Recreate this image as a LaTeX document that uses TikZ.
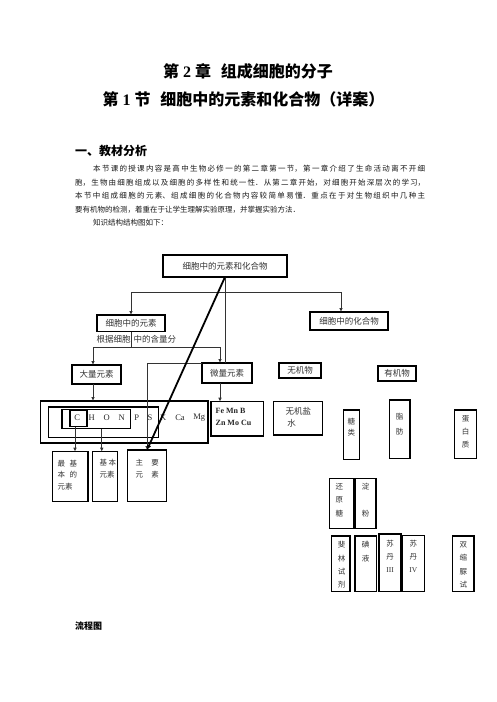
\documentclass[tikz,border=0pt]{standalone}
\usepackage{fontspec}
\usepackage{graphicx}
\setmainfont{Liberation Serif}
\newfontfamily\cjk{Noto Sans CJK SC}
\usetikzlibrary{arrows.meta}
\newcommand\rbox[5]{\node[boxst, minimum width={(#4)-(#2)}, minimum height={(#5)-(#3)}] (#1) at ({((#2)+(#4))/2},{((#3)+(#5))/2}) {};}
\begin{document}
\begin{tikzpicture}[x=1pt,y=-1pt,
 boxst/.style={draw=black, line width=1.2pt, inner sep=0pt, outer sep=0pt},
 txt/.style={inner sep=0pt, font=\cjk\fontsize{8.5}{11}\selectfont, text=black!80, align=center},
 stxt/.style={inner sep=0pt, font=\cjk\fontsize{7.5}{11.8}\selectfont, text=black!80, align=left},
 vtxt/.style={inner sep=0pt, text=black!80, align=center},
 ltr/.style={inner sep=0pt, font=\fontsize{8.5}{10}\selectfont, text=black!85},
 conn/.style={draw=black!80, line width=0.9pt},
 arr/.style={conn, -{Latex[length=4pt,width=3.6pt]}},
 diag/.style={draw=black, line width=1.8pt, -{Latex[length=5pt,width=4.5pt]}},
]
\fill[white] (0,0) rectangle (496,702);
\useasboundingbox (0,0) rectangle (496,702);

% titles
\node[inner sep=0pt, font=\cjk\bfseries\fontsize{16}{16}\selectfont] (t1) at (248,71) {第\hspace{4pt}{\rmfamily\bfseries 2}\hspace{4pt}章\hspace{0.6em}组成细胞的分子};
\node[inner sep=0pt, font=\cjk\bfseries\fontsize{16}{16}\selectfont] (t2) at (243.5,99) {第\hspace{4pt}{\rmfamily\bfseries 1}\hspace{4pt}节\hspace{0.6em}细胞中的元素和化合物（详案）};
\node[anchor=west, inner sep=0pt, font=\cjk\bfseries\fontsize{12}{12}\selectfont] (h1) at (75,150.5) {一、教材分析};

\node[anchor=north west, text width=350pt, align=justify, inner sep=0pt,
  font=\cjk\fontsize{7.5}{13.5}\selectfont, text=black!90] (para) at (75,165.2)
 {\XeTeXlinebreaklocale "zh"\XeTeXlinebreakskip=0pt plus 3pt\relax
 \hspace*{18pt}本节课的授课内容是高中生物必修一的第二章第一节，第一章介绍了生命活动离不开细\linebreak
 胞，生物由细胞组成以及细胞的多样性和统一性．从第二章开始，对细胞开始深层次的学习，\linebreak
 本节中组成细胞的元素、组成细胞的化合物内容较简单易懂．重点在于对生物组织中几种主\linebreak
 要有机物的检测，着重在于让学生理解实验原理，并掌握实验方法．\\
 \hspace*{18pt}知识结构结构图如下：};

% boxes
\rbox{top}{163}{255}{287}{277}
\rbox{elem}{97}{315}{165}{331.5}
\rbox{cmpd}{310}{312}{388}{330}
\rbox{dali}{72}{365}{121}{384}
\rbox{wl}{202}{363}{252}{383}
\rbox{wjw}{279}{363}{321}{378}
\rbox{yjw}{378}{366}{416}{381}
\rbox{outer}{40.5}{401}{208}{443}
\rbox{mid}{48.3}{407}{158.3}{437.5}
\rbox{inner}{62}{409.5}{130.5}{428.5}
\rbox{cbox}{70}{410}{87}{426.5}
\rbox{zjb}{52.3}{451.7}{88}{501.7}
\rbox{jb}{92.7}{451.7}{117.3}{501.7}
\rbox{zy}{127.3}{450}{166.7}{501.7}
\rbox{fe}{211}{401.7}{263.3}{436}
\rbox{wjy}{273.3}{401.7}{322.7}{435}
\rbox{tl}{343.3}{410}{359.3}{459.3}
\rbox{zf}{389.3}{400}{410}{458.3}
\rbox{dbz}{454.3}{410}{476.7}{458.3}
\rbox{hyt}{329.3}{478.3}{353.3}{528.3}
\rbox{df}{355}{478.3}{376}{528.3}
\rbox{fl}{331.7}{536}{350}{591.7}
\rbox{dy}{355}{536}{376.7}{591.7}
\rbox{sd3}{379}{534}{401}{591.7}
\rbox{sd4}{402.3}{535.3}{424.3}{591.7}
\rbox{sxs}{452.3}{536}{474}{591.7}

% box texts
\node[txt] (ttop) at (225,266) {细胞中的元素和化合物};
\node[txt] (telem) at (131,323.3) {细胞中的元素};
\node[txt] (tcmpd) at (349,321) {细胞中的化合物};
\node[txt, anchor=west] (tgen) at (96.5,339.5) {根据细胞\hspace{3pt}中的含量分};
\node[txt] (tdali) at (96.5,374.5) {大量元素};
\node[txt] (twl) at (227,373) {微量元素};
\node[txt] (twjw) at (300,370.5) {无机物};
\node[txt] (tyjw) at (397,373.5) {有机物};
\foreach \l/\x [count=\i] in {C/77.3,H/91.7,O/106.7,N/121.7,P/136.7,S/150,K/163.3,Ca/180,Mg/199.3}
  \node[ltr] (e\i) at (\x,417.7) {\l};
\node[inner sep=0pt, anchor=west, align=left, font=\bfseries\fontsize{8}{12.6}\selectfont, text=black!85] (tfe) at (215.5,417) {Fe Mn B\\Zn Mo Cu};
\node[txt] (twjy1) at (298.3,411.7) {无机盐};
\node[txt] (twjy2) at (291.7,423.3) {水};
\node[stxt, anchor=west] (tzjb) at (57.5,475) {最\hspace{4.5pt}基\\本\hspace{4.5pt}的\\元素};
\node[stxt, anchor=north west] (tjb) at (99.3,459) {基\hspace{1.5pt}本\\元素};
\node[stxt, anchor=north west] (tzy) at (135.3,459) {主\hspace{8.5pt}要\\元\hspace{8.5pt}素};
\node[vtxt, font=\cjk\fontsize{7.5}{11}\selectfont] (ttl) at (351.3,427.2) {糖\\类};
\node[vtxt, font=\cjk\fontsize{7.5}{15}\selectfont] (tzf) at (399.7,424.2) {脂\\肪};
\node[vtxt, font=\cjk\fontsize{7.5}{13.3}\selectfont] (tdbz) at (465.5,431.7) {蛋\\白\\质};
\node[vtxt, font=\cjk\fontsize{7.5}{13.3}\selectfont] (thyt) at (339.3,500) {还\\原\\糖};
\node[vtxt, font=\cjk\fontsize{7.5}{13.3}\selectfont] (tdf) at (365.7,500) {淀\\[13.3pt]粉};
\node[vtxt, font=\cjk\fontsize{7.5}{13.3}\selectfont] (tfl) at (341.7,565) {斐\\林\\试\\剂};
\node[vtxt, font=\cjk\fontsize{7.5}{13.3}\selectfont] (tdy) at (365.7,551.7) {碘\\液};
\node[vtxt, font=\cjk\fontsize{7.5}{13}\selectfont] (tsd3) at (390,556.3) {苏\\丹\\{\rmfamily III}};
\node[vtxt, font=\cjk\fontsize{7.5}{13}\selectfont] (tsd4) at (413.3,556.3) {苏\\丹\\{\rmfamily IV}};
\node[vtxt, font=\cjk\fontsize{7.5}{13.3}\selectfont] (tsxs) at (463.3,565) {双\\缩\\脲\\试};

\node[anchor=west, inner sep=0pt, font=\cjk\bfseries\fontsize{9}{9}\selectfont] (lct) at (75,626) {流程图};

% connectors
\coordinate (j1) at (225,292);
\coordinate (j1r) at (341,292);
\draw[arr] (j1) -| (elem.north);
\draw[arr] (j1) -- (j1r) -- (j1r |- cmpd.north);
\draw[conn] (top.south) -- (top.south |- wl.north);
\coordinate (j2) at (131,347);
\coordinate (j2l) at (93,347);
\coordinate (j2r) at (220,347);
\draw[conn] (elem.south) -- (j2);
\draw[arr] (j2r) -- (j2l) -- (j2l |- dali.north);
\draw[arr] (j2r) -- (j2r |- wl.north);
\draw[arr] (dali.south -| j2l) -- (outer.north -| j2l);
\draw[arr] (wl.south -| j2r) -- (fe.north -| j2r);
\draw[arr] (wl.north west) -| (zy.north);
\draw[arr] ([xshift=-3.5pt]cbox.south) -- ([xshift=-3.5pt]cbox.south |- zjb.north);
\draw[arr] ([xshift=5.5pt]inner.south) -- ([xshift=5.5pt]inner.south |- jb.north);
\draw[diag] (top.south) -- (zy.north);
\end{tikzpicture}
\end{document}
